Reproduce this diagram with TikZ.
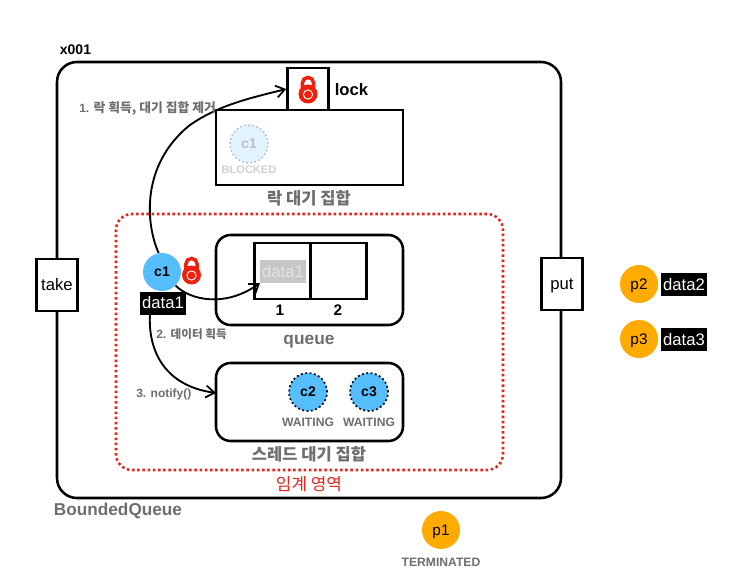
\documentclass[tikz,border=0pt]{standalone}
\usepackage{fontspec}
\setmainfont{Liberation Sans}
\newfontfamily\kr{Noto Sans CJK KR}
\usetikzlibrary{arrows.meta}
\def\px{0.75pt}
\definecolor{cblue}{HTML}{56BEFD}
\definecolor{porange}{HTML}{FFAB00}
\definecolor{lockred}{HTML}{F0200C}
\definecolor{txtgray}{HTML}{6E6E6E}
\definecolor{critred}{HTML}{E8231A}
\tikzset{
  x=0.75pt,y=-0.75pt,
  box/.style={draw=black,line width=1.9pt,fill=white,inner sep=0pt,font=\fontsize{12.5}{14}\selectfont},
  rbox/.style={box,rounded corners=11pt},
  thread/.style={circle,inner sep=0pt,minimum size=38*\px,font=\bfseries\fontsize{10.5}{12}\selectfont},
  consumer/.style={thread,fill=cblue},
  waiting/.style={consumer,draw=black,line width=1.3pt,dotted},
  producer/.style={thread,fill=porange,text depth=0pt,font=\fontsize{11.5}{13}\selectfont},
  datatag/.style={fill=black,text=white,inner sep=0pt,minimum width=46*\px,minimum height=23*\px,font=\fontsize{12.5}{14}\selectfont},
  caption/.style={text=txtgray,font=\bfseries\fontsize{9.1}{10}\selectfont,inner sep=0pt},
  stepnote/.style={text=txtgray,font=\bfseries\fontsize{9}{10}\selectfont,inner sep=0pt},
  setname/.style={text=txtgray,font=\kr\bfseries\fontsize{12.4}{14}\selectfont,inner sep=0pt},
  flow/.style={draw=black,line width=1.4pt,-{Straight Barb[length=6.5pt,width=9pt,line width=1.3pt]}},
}
\newcommand{\lockicon}[2]{%
  \draw[lockred,line width=2.6pt] ({#1-5.6},{#2-6}) -- ({#1-5.6},{#2-11}) arc[start angle=180,end angle=360,radius=5.6] -- ({#1+5.6},{#2-6});
  \fill[lockred] (#1,#2) circle[radius=9.5];
  \draw[white,line width=0.7pt] (#1,{#2+0.5}) circle[radius=4.6];
}
\begin{document}
\begin{tikzpicture}
\useasboundingbox[fill=white] (0,0) rectangle (748,584);
% outer object
\node[rbox,rounded corners=15pt,minimum width=504*\px,minimum height=436*\px] (bq) at (309,280) {};
\node[inner sep=0pt,font=\bfseries\fontsize{10.5}{12}\selectfont] (addr) at (75.5,50) {x001};
\node[inner sep=0pt,text=txtgray,font=\bfseries\fontsize{12.9}{14}\selectfont] (bqname) at (118,510.5) {BoundedQueue};
% methods
\node[box,minimum width=41*\px,minimum height=52*\px] (take) at (57,285) {take};
\node[box,text depth=0pt,minimum width=41*\px,minimum height=52*\px] (put) at (562,284) {put};
% critical section
\node[draw=critred,line width=1.9pt,dotted,rounded corners=12pt,minimum width=387*\px,minimum height=256*\px,inner sep=0pt] (crit) at (309.5,342) {};
\node[inner sep=0pt,text=critred,font=\kr\fontsize{12.7}{14}\selectfont] (critlabel) at (309,484) {임계 영역};
% lock and blocked set
\node[box,minimum width=187*\px,minimum height=75*\px] (blocked) at (309.5,147.5) {};
\node[box,minimum width=41*\px,minimum height=42*\px] (lockbox) at (308,89) {};
\lockicon{308}{94}
\node[inner sep=0pt,font=\bfseries\fontsize{12.5}{14}\selectfont] (locklabel) at (351.5,90) {lock};
\node[thread,fill=cblue!18,draw=black!28,line width=1.1pt,dotted,text=black!25] (c1b) at (249,144) {c1};
\node[caption,font=\bfseries\fontsize{8.3}{10}\selectfont,text=black!18] (blockedlabel) at (249,170) {BLOCKED};
\node[setname] (blockedname) at (309,198) {락 대기 집합};
% queue
\node[rbox,minimum width=187*\px,minimum height=90*\px] (queue) at (309.5,280) {};
\node[draw=black,line width=1.9pt,minimum width=56*\px,minimum height=56*\px,inner sep=0pt] (slot1) at (282.5,271) {};
\node[draw=black,line width=1.9pt,minimum width=56*\px,minimum height=56*\px,inner sep=0pt] (slot2) at (338.5,271) {};
\node[fill=black!22,text=black!11,inner sep=0pt,minimum width=46*\px,minimum height=23*\px,font=\fontsize{12.5}{14}\selectfont] (ghost) at (283,271.5) {data1};
\node[inner sep=0pt,font=\bfseries\fontsize{11.5}{13}\selectfont] (n1) at (280,310) {1};
\node[inner sep=0pt,font=\bfseries\fontsize{11.5}{13}\selectfont] (n2) at (338,310) {2};
\node[inner sep=0pt,text depth=0pt,text=txtgray,font=\bfseries\fontsize{13}{14}\selectfont] (queuename) at (309,340) {queue};
% thread wait set
\node[rbox,minimum width=187*\px,minimum height=78*\px] (waitset) at (309.5,402) {};
\node[waiting] (c2) at (308,392) {c2};
\node[waiting] (c3) at (369,392) {c3};
\node[caption] (w2) at (308,422) {WAITING};
\node[caption] (w3) at (369,422) {WAITING};
\node[setname] (waitname) at (309,454) {스레드 대기 집합};
% c1 and connectors
\node[consumer] (c1) at (162,272) {c1};
\node[datatag] (d1) at (163,303) {data1};
\coordinate (slot1in) at (260,283);
\coordinate (d1out) at (150,314);
\coordinate (waitin) at (216,393);
\draw[flow] (c1.100) .. controls (146,225) and (140,165) .. (190,125) .. controls (220,104) and (255,97) .. (lockbox.west);
\draw[flow] (c1.-45) .. controls (190,300) and (225,308) .. (slot1in);
\draw[flow] (d1out) .. controls (148,345) and (160,385) .. (waitin);
\lockicon{191.5}{275}
% step notes
\node[stepnote,anchor=west] (s1) at (79,109) {1. {\kr\fontsize{9.6}{10}\selectfont 락 획득, 대기 집합 제거}};
\node[stepnote,anchor=west] (s2) at (156,334) {2. {\kr\fontsize{8.7}{10}\selectfont 데이터 획득}};
\node[stepnote,anchor=west] (s3) at (136,394) {3. notify()};
% producers
\node[producer] (p2) at (639,284) {p2};
\node[datatag] (d2) at (684,284.5) {data2};
\node[producer] (p3) at (639,339) {p3};
\node[datatag] (d3) at (684,339.5) {data3};
\node[producer] (p1) at (441,530) {p1};
\node[caption] (term) at (441,562) {TERMINATED};
\end{tikzpicture}
\end{document}
